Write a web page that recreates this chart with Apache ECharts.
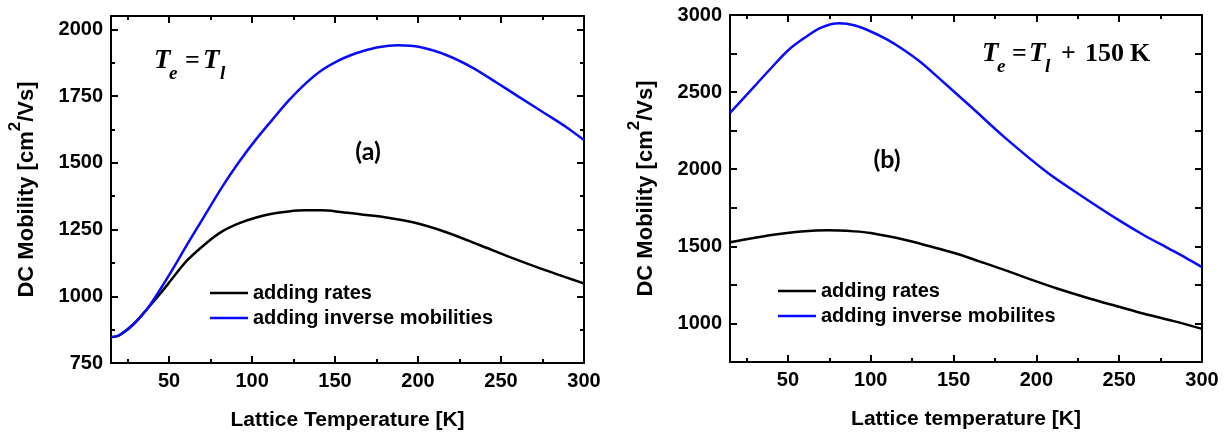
<!DOCTYPE html>
<html>
<head>
<meta charset="utf-8">
<script src="https://cdn.jsdelivr.net/npm/echarts@6/dist/echarts.min.js"></script>
<style>
  html, body { margin: 0; padding: 0; background: #ffffff; }
  #chart { width: 1227px; height: 433px; }
</style>
</head>
<body>
<div id="chart"></div>
<script>
// ---- Panel (a): Te = Tl ----
const tempA_rates = [15, 20, 29, 37, 45, 53, 61, 72, 82, 92, 102, 112, 122, 132, 142, 152, 165, 180, 197, 217, 237, 257, 277, 300];
const mobA_rates  = [847, 854, 898, 954, 1012, 1075, 1135, 1197, 1243, 1273, 1294, 1309, 1318, 1322, 1322, 1317, 1307, 1296, 1277, 1240, 1192, 1143, 1097, 1048];

const tempA_inv = [15, 20, 29, 37, 45, 53, 61, 72, 82, 92, 102, 112, 122, 132, 142, 152, 159, 166, 176, 188, 201, 217, 233, 247, 261, 277, 289, 300];
const mobA_inv  = [847, 854, 898, 954, 1029, 1110, 1195, 1308, 1410, 1502, 1585, 1660, 1733, 1796, 1847, 1883, 1902, 1917, 1933, 1940, 1934, 1904, 1856, 1802, 1746, 1683, 1635, 1585];

// ---- Panel (b): Te = Tl + 150 K ----
const tempB_rates = [15, 40, 60, 74, 90, 100, 121, 135, 151, 166, 181, 196, 212, 232, 250, 265, 283, 300];
const mobB_rates  = [1526, 1574, 1598, 1604, 1597, 1586, 1541, 1502, 1455, 1401, 1346, 1287, 1228, 1162, 1108, 1063, 1015, 965];

const tempB_inv = [15, 30, 40, 50, 60, 70, 81, 90, 100, 110, 120, 130, 141, 161, 181, 207, 225, 250, 265, 280, 290, 300];
const mobB_inv  = [2365, 2540, 2658, 2770, 2852, 2918, 2946, 2933, 2893, 2840, 2773, 2695, 2592, 2400, 2205, 1975, 1843, 1668, 1572, 1485, 1427, 1365];

// ---- Series names ----
const NAME_RATES = 'adding rates';
const NAME_INV_A = 'adding inverse mobilities';
const NAME_INV_B = 'adding inverse mobilites';

// ---- Axis ticks and labels ----
const xRange = [15, 300];
const xTicksMajor = [50, 100, 150, 200, 250, 300];
const xTicksMinor = [25, 75, 125, 175, 225, 275];
const yRangeA = [750, 2050];
const yLabelsA = [750, 1000, 1250, 1500, 1750, 2000];
const yMinorA = [875, 1125, 1375, 1625, 1875];
const yRangeB = [750, 3000];
const yLabelsB = [1000, 1500, 2000, 2500, 3000];
const yTicksB = [1000, 1250, 1500, 1750, 2000, 2250, 2500, 2750];

const SANS = '"Liberation Sans", Arial, Helvetica, sans-serif';
const SERIF = '"Liberation Serif", "Times New Roman", serif';
const LABEL_SANS = 'Lato, "Open Sans", sans-serif';

const panelA = { left: 111, top: 16, width: 473, height: 347 };
const panelB = { left: 730, top: 15, width: 472, height: 347 };

const BLACK = '#000000';
const BLUE = '#0a0aff';

function pairs(xs, ys) { return xs.map((x, i) => [x, ys[i]]); }

const tickLine = { color: BLACK, width: 2 };
const labelFont = { color: BLACK, fontSize: 20, fontWeight: 'bold', fontFamily: SANS };
const plainNumber = (v) => String(v);

// Framed axis carrying the major ticks (and labels on bottom/left)
function frameAxis(grid, pos, range, ticks, labels, extra) {
  return Object.assign({
    type: 'value', gridIndex: grid, position: pos,
    min: range[0], max: range[1],
    axisLine: { show: true, onZero: false, lineStyle: { color: BLACK, width: 2 } },
    axisTick: { show: true, inside: true, length: 7, customValues: ticks, lineStyle: tickLine },
    axisLabel: labels
      ? Object.assign({ show: true, customValues: labels, margin: 8, formatter: plainNumber }, labelFont)
      : { show: false },
    splitLine: { show: false },
    minorTick: { show: false }
  }, extra || {});
}

// Axis with short inner ticks only (overlay grid)
function minorAxis(grid, pos, range, ticks) {
  return {
    type: 'value', gridIndex: grid, position: pos,
    min: range[0], max: range[1],
    axisLine: { show: false, onZero: false },
    axisTick: { show: ticks.length > 0, inside: true, length: 4, customValues: ticks, lineStyle: tickLine },
    axisLabel: { show: false },
    splitLine: { show: false }
  };
}

const xName = (text) => ({
  name: text, nameLocation: 'middle', nameGap: 47,
  nameTextStyle: { color: BLACK, fontSize: 21, fontWeight: 'bold', fontFamily: SANS }
});

const yName = {
  name: '{m|DC Mobility [cm}{s|2}{m|/Vs]}',
  nameLocation: 'middle', nameRotate: 90, nameGap: 64,
  nameTextStyle: {
    color: BLACK,
    rich: {
      m: { fontSize: 22, fontWeight: 'bold', fontFamily: SANS, color: BLACK, lineHeight: 40 },
      s: { fontSize: 17, fontWeight: 'bold', fontFamily: SANS, color: BLACK, lineHeight: 17, verticalAlign: 'top' }
    }
  }
};

const gridBase = { containLabel: false, outerBoundsMode: 'none', show: false };

const xAxis = [
  frameAxis(0, 'bottom', xRange, xTicksMajor, xTicksMajor, xName('Lattice Temperature [K]')),
  frameAxis(0, 'top', xRange, xTicksMajor, null),
  frameAxis(1, 'bottom', xRange, xTicksMajor, xTicksMajor, xName('Lattice temperature [K]')),
  frameAxis(1, 'top', xRange, xTicksMajor, null),
  minorAxis(2, 'bottom', xRange, xTicksMinor),
  minorAxis(2, 'top', xRange, xTicksMinor),
  minorAxis(3, 'bottom', xRange, xTicksMinor),
  minorAxis(3, 'top', xRange, xTicksMinor)
];

const yAxis = [
  frameAxis(0, 'left', yRangeA, yLabelsA, yLabelsA, yName),
  frameAxis(0, 'right', yRangeA, yLabelsA, null),
  frameAxis(1, 'left', yRangeB, yTicksB, yLabelsB, yName),
  frameAxis(1, 'right', yRangeB, yTicksB, null),
  minorAxis(2, 'left', yRangeA, yMinorA),
  minorAxis(2, 'right', yRangeA, yMinorA),
  minorAxis(3, 'left', yRangeB, [])
];

function curve(name, xs, ys, color, xi, yi) {
  return {
    type: 'line', name: name, data: pairs(xs, ys),
    xAxisIndex: xi, yAxisIndex: yi,
    symbol: 'none', smooth: 0.3,
    lineStyle: { color: color, width: 2.5 },
    itemStyle: { color: color },
    clip: true, animation: false, silent: true
  };
}

const series = [
  curve(NAME_RATES, tempA_rates, mobA_rates, BLACK, 0, 0),
  curve(NAME_INV_A, tempA_inv, mobA_inv, BLUE, 0, 0),
  curve(NAME_RATES, tempB_rates, mobB_rates, BLACK, 2, 2),
  curve(NAME_INV_B, tempB_inv, mobB_inv, BLUE, 2, 2)
];

const legendText = { color: BLACK, fontSize: 20, fontWeight: 'bold', fontFamily: SANS, lineHeight: 20 };
const legendBase = {
  orient: 'vertical', icon: 'rect', itemWidth: 38, itemHeight: 2.5, itemGap: 5,
  selectedMode: false, textStyle: legendText, padding: 0
};

// Text annotations: italic T symbols with subscripts, and panel tags
function txt(x, y, text, size, italic, extra) {
  return {
    type: 'text', x: x, y: y, silent: true,
    style: Object.assign({
      text: text, fontSize: size, fontFamily: SERIF, fontWeight: 'bold',
      fontStyle: italic ? 'italic' : 'normal', fill: BLACK,
      align: 'left', verticalAlign: 'middle'
    }, extra || {})
  };
}

const graphic = [
  // T_e = T_l
  txt(154, 61, 'T', 27, true),
  txt(169, 74.5, 'e', 19, true),
  txt(185, 61, '=', 26, false),
  txt(203, 61, 'T', 27, true),
  txt(220, 74.5, 'l', 19, true),
  // T_e = T_l + 150 K
  txt(982, 54, 'T', 27, true),
  txt(997, 67.5, 'e', 19, true),
  txt(1012, 54, '=', 26, false),
  txt(1029, 54, 'T', 27, true),
  txt(1045, 67.5, 'l', 19, true),
  txt(1061, 54, '+', 26, false),
  txt(1085, 54, '150', 26, false),
  txt(1130, 54, 'K', 26, false),
  // panel tags
  txt(368, 152, '(a)', 25, false, { fontFamily: LABEL_SANS, align: 'center' }),
  txt(887, 160, '(b)', 25, false, { fontFamily: LABEL_SANS, align: 'center' })
];

const chart = echarts.init(document.getElementById('chart'), null, { renderer: 'canvas' });
chart.setOption({
  backgroundColor: '#ffffff',
  animation: false,
  grid: [
    Object.assign({}, gridBase, panelA),
    Object.assign({}, gridBase, panelB),
    Object.assign({}, gridBase, panelA),
    Object.assign({}, gridBase, panelB)
  ],
  xAxis: xAxis,
  yAxis: yAxis,
  legend: [
    Object.assign({}, legendBase, { left: 210, top: 283, data: [NAME_RATES, NAME_INV_A] }),
    Object.assign({}, legendBase, { left: 778, top: 281, data: [NAME_RATES, NAME_INV_B] })
  ],
  graphic: graphic,
  series: series
});
</script>
</body>
</html>
